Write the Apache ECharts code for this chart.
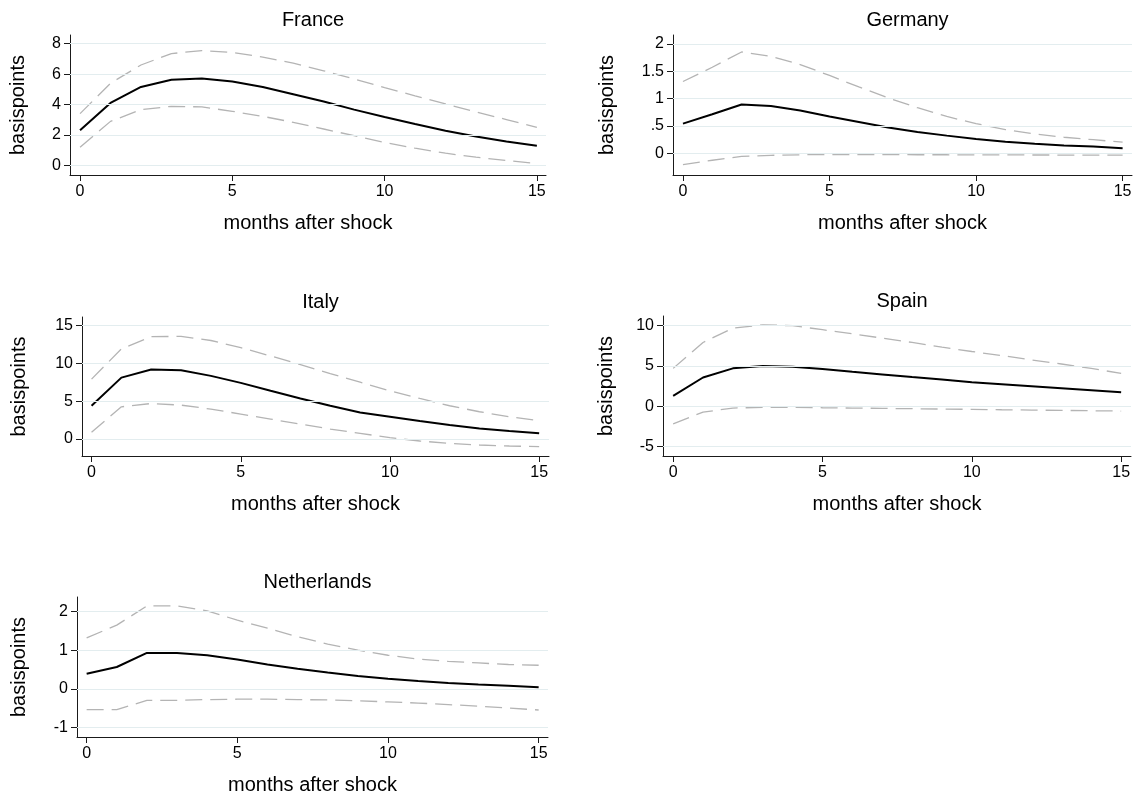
<!DOCTYPE html>
<html>
<head>
<meta charset="utf-8">
<script src="https://cdn.jsdelivr.net/npm/echarts@6/dist/echarts.min.js"></script>
<style>
html,body{margin:0;padding:0;background:#fff;}
#chart{width:1137px;height:796px;}
</style>
</head>
<body>
<div id="chart"></div>
<script>
// ---- data ----
const months = [0,1,2,3,4,5,6,7,8,9,10,11,12,13,14,15];
const countries = ['France','Germany','Italy','Spain','Netherlands'];
const xTicks = [0,5,10,15];

const franceIrf   = [2.31,4.11,5.16,5.63,5.71,5.52,5.16,4.68,4.2,3.67,3.19,2.73,2.29,1.91,1.58,1.3];
const franceUpper = [3.41,5.4,6.6,7.35,7.55,7.42,7.12,6.72,6.22,5.68,5.12,4.58,4.05,3.52,3.02,2.5];
const franceLower = [1.2,2.9,3.67,3.89,3.85,3.56,3.23,2.84,2.4,1.96,1.52,1.14,0.81,0.55,0.33,0.13];
const franceTicks = [0,2,4,6,8];

const germanyIrf   = [0.54,0.71,0.89,0.86,0.78,0.67,0.57,0.47,0.385,0.32,0.26,0.21,0.17,0.14,0.12,0.09];
const germanyUpper = [1.31,1.57,1.85,1.77,1.62,1.42,1.21,1.01,0.83,0.67,0.54,0.43,0.35,0.29,0.245,0.2];
const germanyLower = [-0.21,-0.13,-0.06,-0.04,-0.03,-0.025,-0.025,-0.027,-0.03,-0.03,-0.032,-0.033,-0.034,-0.035,-0.035,-0.035];
const germanyTicks = [0,0.5,1,1.5,2];

const italyIrf   = [4.39,8.1,9.17,9.08,8.33,7.41,6.36,5.35,4.39,3.51,2.94,2.37,1.84,1.4,1.05,0.75];
const italyUpper = [7.9,11.9,13.5,13.55,13.0,12.06,10.96,9.82,8.64,7.5,6.36,5.35,4.39,3.6,2.94,2.41];
const italyLower = [0.88,4.25,4.69,4.47,3.95,3.29,2.63,1.97,1.32,0.75,0.18,-0.26,-0.57,-0.79,-0.92,-1.0];
const italyTicks = [0,5,10,15];

const spainIrf   = [1.29,3.58,4.71,5.0,4.92,4.63,4.29,3.96,3.63,3.33,3.0,2.75,2.5,2.25,2.0,1.75];
const spainUpper = [4.71,7.92,9.7,10.1,10.0,9.5,9.0,8.46,7.92,7.33,6.8,6.3,5.75,5.25,4.71,4.08];
const spainLower = [-2.17,-0.71,-0.21,-0.12,-0.12,-0.17,-0.21,-0.25,-0.29,-0.33,-0.37,-0.42,-0.46,-0.5,-0.54,-0.58];
const spainTicks = [-5,0,5,10];

const nlIrf   = [0.39,0.565,0.93,0.93,0.87,0.76,0.63,0.52,0.42,0.33,0.26,0.2,0.15,0.11,0.08,0.04];
const nlUpper = [1.32,1.65,2.15,2.15,2.02,1.78,1.57,1.35,1.16,1.0,0.87,0.77,0.71,0.67,0.63,0.61];
const nlLower = [-0.54,-0.54,-0.3,-0.3,-0.28,-0.27,-0.27,-0.28,-0.29,-0.31,-0.34,-0.37,-0.41,-0.45,-0.5,-0.55];
const nlTicks = [-1,0,1,2];

const xTitle = 'months after shock';
const yTitle = 'basispoints';

// ---- layout (pixels / axis extents) ----
const panels = [
  {irf:franceIrf,  up:franceUpper,  lo:franceLower,  ticks:franceTicks,
   left:70, top:35, width:476, height:140, xmin:-0.33, xmax:15.3,  ymin:-0.62, ymax:8.57, nameGap:42},
  {irf:germanyIrf, up:germanyUpper, lo:germanyLower, ticks:germanyTicks,
   left:673, top:35, width:459, height:140, xmin:-0.34, xmax:15.32, ymin:-0.4, ymax:2.16, nameGap:56},
  {irf:italyIrf,   up:italyUpper,   lo:italyLower,   ticks:italyTicks,
   left:82, top:317, width:467, height:139, xmin:-0.32, xmax:15.33, ymin:-2.24, ymax:16.1, nameGap:53},
  {irf:spainIrf,   up:spainUpper,   lo:spainLower,   ticks:spainTicks,
   left:663, top:316, width:468, height:140, xmin:-0.34, xmax:15.33, ymin:-6.15, ymax:11.2, nameGap:47},
  {irf:nlIrf,      up:nlUpper,      lo:nlLower,      ticks:nlTicks,
   left:77, top:597, width:471, height:140, xmin:-0.32, xmax:15.31, ymin:-1.25, ymax:2.38, nameGap:48}
];

const FONT = 'Liberation Sans, Arial, sans-serif';
const grid = [], xAxis = [], yAxis = [], series = [], title = [];

function pairs(arr){ return months.map((m,i)=>[m, arr[i]]); }
function fmt(v){ return String(v).replace(/^0\./,'.').replace(/^-0\./,'-.'); }

panels.forEach((p, i) => {
  grid.push({left:p.left, top:p.top, width:p.width, height:p.height, containLabel:false});
  title.push({
    text: countries[i], left: p.left + p.width/2, top: p.top - 30, textAlign:'center',
    textStyle:{fontFamily:FONT, fontSize:20, fontWeight:'normal', color:'#000'}
  });
  xAxis.push({
    type:'value', gridIndex:i, min:p.xmin, max:p.xmax,
    name:xTitle, nameLocation:'middle', nameGap:38,
    nameTextStyle:{fontFamily:FONT, fontSize:20, color:'#000'},
    axisLine:{show:true, onZero:false, lineStyle:{color:'#1a1a1a', width:1}},
    axisTick:{show:true, length:6, customValues:xTicks, lineStyle:{color:'#1a1a1a'}},
    axisLabel:{customValues:xTicks, margin:9, fontFamily:FONT, fontSize:16, color:'#000'},
    splitLine:{show:false}
  });
  yAxis.push({
    type:'value', gridIndex:i, min:p.ymin, max:p.ymax,
    name:yTitle, nameLocation:'middle', nameGap:p.nameGap, nameRotate:90,
    nameTextStyle:{fontFamily:FONT, fontSize:20, color:'#000'},
    axisLine:{show:true, onZero:false, lineStyle:{color:'#1a1a1a', width:1}},
    axisTick:{show:true, length:6, customValues:p.ticks, lineStyle:{color:'#1a1a1a'}},
    axisLabel:{customValues:p.ticks, margin:9, fontFamily:FONT, fontSize:16, color:'#000', formatter:fmt},
    splitLine:{show:false}
  });
  // gridlines
  series.push({
    type:'line', xAxisIndex:i, yAxisIndex:i, data:[], z:1, silent:true,
    markLine:{silent:true, symbol:'none', animation:false, label:{show:false},
      lineStyle:{color:'#e3edef', width:1.2, type:'solid'},
      data:p.ticks.map(v=>({yAxis:v}))}
  });
  ['up','lo'].forEach(k => {
    series.push({
      type:'line', xAxisIndex:i, yAxisIndex:i, data:pairs(p[k]), z:2,
      symbol:'none', silent:true,
      lineStyle:{color:'#b4b4b4', width:1.3, type:[17,8]}
    });
  });
  series.push({
    type:'line', xAxisIndex:i, yAxisIndex:i, data:pairs(p.irf), z:3,
    symbol:'none', silent:true,
    lineStyle:{color:'#000', width:2}
  });
});

const chart = echarts.init(document.getElementById('chart'), null, {renderer:'canvas'});
chart.setOption({
  animation:false,
  backgroundColor:'#fff',
  title, grid, xAxis, yAxis, series
});
</script>
</body>
</html>
